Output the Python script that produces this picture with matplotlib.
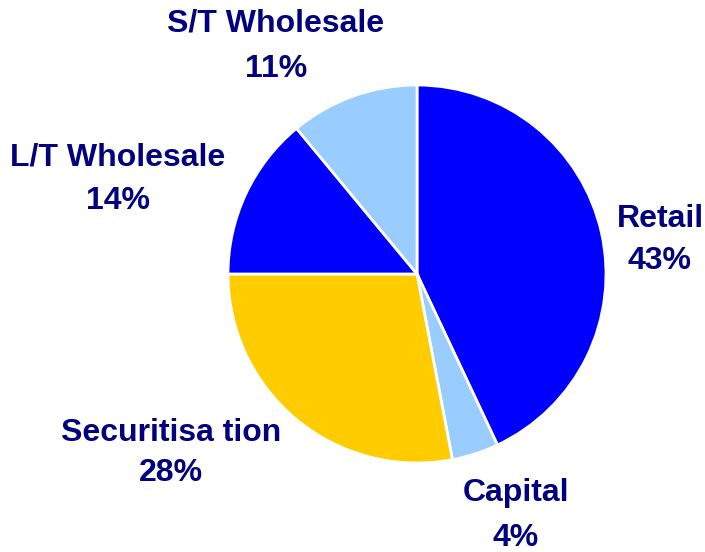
import matplotlib
matplotlib.use('Agg')
from matplotlib import pyplot as plt

# data, clockwise from 12 o'clock
labels = ['Retail', 'Capital', 'Securitisa tion', 'L/T Wholesale', 'S/T Wholesale']
shares = [43, 4, 28, 14, 11]
colors = ['#0000FF', '#99CCFF', '#FFCC00', '#0000FF', '#99CCFF']

# label centres in pixels (x, y of name line), percent line sits below
label_pos = [(660, 219), (516, 493), (171, 433), (118, 158), (276, 23)]
line_gap = [42, 45, 40, 43, 46]

W, H = 705, 552
plt.rcParams['font.family'] = ['Liberation Sans', 'DejaVu Sans']

fig = plt.figure(figsize=(W / 100, H / 100), dpi=100)
ax = fig.add_axes([0, 0, 1, 1])

ax.pie(shares, colors=colors, startangle=90, counterclock=False,
       center=(417, H - 274), radius=189,
       wedgeprops=dict(edgecolor='white', linewidth=2))
ax.set_xlim(0, W)
ax.set_ylim(0, H)
ax.set_aspect('equal')
ax.axis('off')

navy = '#000080'
for name, v, (x, y), g in zip(labels, shares, label_pos, line_gap):
    ax.text(x, H - y, name, ha='center', va='center', fontsize=23,
            fontweight='bold', color=navy)
    ax.text(x, H - y - g, '%d%%' % v, ha='center', va='center', fontsize=23,
            fontweight='bold', color=navy)

fig.savefig('out.png', dpi=100)
